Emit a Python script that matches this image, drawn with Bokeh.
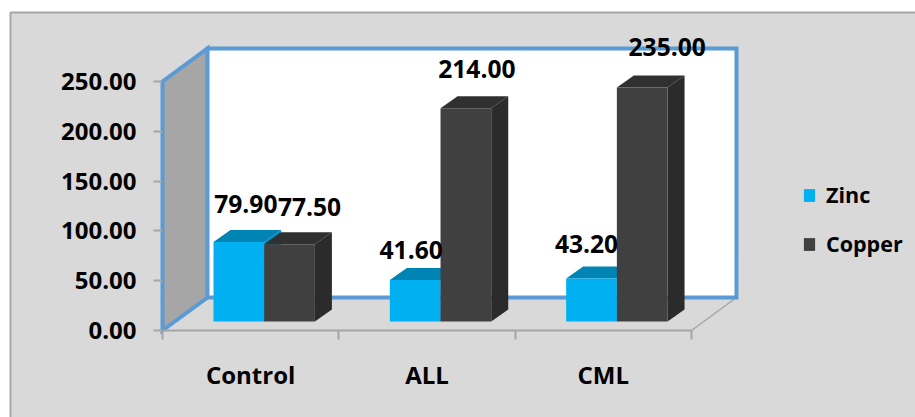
from bokeh.embed import file_html
from bokeh.resources import INLINE
from bokeh.plotting import figure
from bokeh.models import ColumnDataSource, FixedTicker, LinearAxis, Legend, LegendItem, NumeralTickFormatter, Range1d
from bokeh.core.properties import value

categories = ["Control", "ALL", "CML"]
zinc = [79.90, 41.60, 43.20]
copper = [77.50, 214.00, 235.00]
y_ticks = [0, 50, 100, 150, 200, 250]

# layout (pixels of the picture)
W, H = 915, 417
AX_X, AX_Y = 162, 330
CAT_PX = 176.33
VAL_PX = 249 / 250
FONT = "Open Sans"
dx = lambda px: px / CAT_PX
dy = lambda px: px / VAL_PX
px_x = lambda px: (px - AX_X) / CAT_PX
px_y = lambda px: (AX_Y - px) / VAL_PX

GRAY, WALL, EDGE, BLUE = "#d9d9d9", "#a6a6a6", "#a6a6a6", "#5b9bd5"

p = figure(width=W, height=H, output_backend="svg", toolbar_location=None,
           x_range=Range1d(px_x(0), px_x(W)), y_range=Range1d(px_y(H), px_y(0)),
           min_border=0, outline_line_color=None, background_fill_color="white",
           border_fill_color="white", x_axis_location=None, y_axis_location=None)
p.grid.visible = False

# chart area and its frame (left and top edges only)
p.quad(left=px_x(10), right=px_x(W), bottom=px_y(H), top=px_y(12), fill_color=GRAY, line_color=None)
p.line([px_x(10), px_x(10), px_x(W)], [px_y(H), px_y(12), px_y(12)], line_color=EDGE, line_width=2)

# 3-D box
DX, DY = dx(45), dy(33)
n = len(categories)
p.line([n, n + DX], [0, DY], line_color=EDGE, line_width=1.5)
p.patch([0, DX, DX, 0], [0, DY, 250 + DY, 250], fill_color=WALL, line_color=BLUE, line_width=4, line_join="miter")
p.quad(left=DX, right=n + DX, bottom=DY, top=250 + DY, fill_color="white", line_color=BLUE, line_width=4, line_join="miter")

# bars
BAR = dx(50.7)
INSET = dx(51)
SX, SY = dx(17), dy(12)
FLOOR = dy(9)


def bars(values, shift, front, top, side):
    lefts = [i + INSET + shift for i in range(n)]
    rights = [l + BAR for l in lefts]
    tops = [FLOOR + v for v in values]
    p.patches([[r, r + SX, r + SX, r] for r in rights],
              [[FLOOR, FLOOR + SY, t + SY, t] for t in tops], fill_color=side, line_color=None)
    p.patches([[l, l + SX, r + SX, r] for l, r in zip(lefts, rights)],
              [[t, t + SY, t + SY, t] for t in tops], fill_color=top, line_color=None)
    return p.quad(left=lefts, right=rights, bottom=FLOOR, top=tops, fill_color=front, line_color=None)


r_zinc = bars(zinc, 0, "#00b0f0", "#0084b4", "#0084b4")
r_copper = bars(copper, BAR, "#404040", "#303030", "#2b2b2b")

# data labels
label_dx = [7, -4, -5, 20, 11, 25]
label_dy = [38, 30, 34, 37, 39, 40]
lx, ly, lt = [], [], []
for k, vals in enumerate((zinc, copper)):
    for i, v in enumerate(vals):
        lx.append(i + INSET + BAR * k + BAR / 2)
        ly.append(FLOOR + v)
        lt.append(f"{v:.2f}")
src = ColumnDataSource(dict(x=lx, y=ly, t=lt, xo=label_dx, yo=[-d for d in label_dy]))
p.text("x", "y", text="t", source=src, x_offset="xo", y_offset="yo", text_align="center", text_baseline="middle",
       text_font=value(FONT), text_font_style="bold", text_font_size="24.6px", text_color="black")

# axes
yax = LinearAxis(ticker=FixedTicker(ticks=y_ticks), formatter=NumeralTickFormatter(format="0.00"),
                 fixed_location=0, axis_line_color=None, major_tick_in=0, major_tick_out=9,
                 minor_tick_line_color=None, major_tick_line_color=EDGE, major_tick_line_width=2,
                 major_label_standoff=17, major_label_text_font=FONT, major_label_text_font_style="bold",
                 major_label_text_font_size="24px", major_label_text_color="black")
p.add_layout(yax, "left")
xax = LinearAxis(ticker=FixedTicker(ticks=list(range(n + 1))), major_label_overrides={i: "" for i in range(n + 1)},
                 fixed_location=0, bounds=(0, n), axis_line_color=EDGE, axis_line_width=2, major_tick_in=0, major_tick_out=9,
                 minor_tick_line_color=None, major_tick_line_color=EDGE, major_tick_line_width=2)
p.add_layout(xax, "below")
cat = LinearAxis(ticker=FixedTicker(ticks=[i + 0.5 for i in range(n)]),
                 major_label_overrides={i + 0.5: c for i, c in enumerate(categories)},
                 fixed_location=0, axis_line_color=None, major_tick_line_color=None, minor_tick_line_color=None,
                 major_tick_in=0, major_tick_out=0, major_label_standoff=27, major_label_text_font=FONT,
                 major_label_text_font_style="bold", major_label_text_font_size="24px", major_label_text_color="black")
p.add_layout(cat, "below")

legend = Legend(items=[LegendItem(label="Zinc", renderers=[r_zinc]), LegendItem(label="Copper", renderers=[r_copper])],
                location=(802, 159), padding=0, margin=0, spacing=20, glyph_width=14, glyph_height=16,
                label_standoff=10, label_height=16, background_fill_alpha=0, border_line_color=None,
                label_text_font=FONT, label_text_font_style="bold", label_text_font_size="21.5px", label_text_color="black")
p.add_layout(legend, "center")

open("out.html", "w").write(file_html(p, INLINE))
